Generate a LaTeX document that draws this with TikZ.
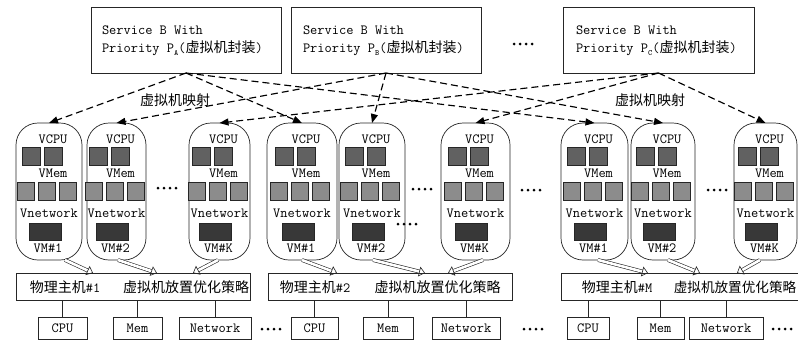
\documentclass[tikz,border=0pt]{standalone}
\usepackage{fontspec}
\newfontfamily\cjk{Noto Sans CJK SC}
\usetikzlibrary{arrows.meta,calc}
\newcommand{\psub}[1]{\raisebox{-3pt}{\fontsize{8}{8}\selectfont #1}}
\newcommand{\fourdots}[2]{\foreach \i in {0,1,2,3} {\fill (#1+\i*6,#2) circle (1.5pt);}}
\newcommand{\vmpod}[4]{%
  \node[pod, minimum width=#3pt] (#1) at (#2,191.5) {};
  \node[txt] (#1-t1) at (#2+4,139) {VCPU};
  \node[cpusq] (#1-c1) at (#2-18,156) {};
  \node[cpusq] (#1-c2) at (#2+4,156) {};
  \node[txt] (#1-t2) at (#2+4,173) {VMem};
  \node[memsq] (#1-m1) at (#2-23,191) {};
  \node[memsq] (#1-m2) at (#2-2,191) {};
  \node[memsq] (#1-m3) at (#2+19,191) {};
  \node[txt] (#1-t3) at (#2,213) {Vnetwork};
  \node[netsq] (#1-n) at (#2-4,231.5) {};
  \node[txt] (#1-t4) at (#2-1,248) {VM\##4};
}
\begin{document}
\begin{tikzpicture}[x=1pt,y=-1pt,
  every node/.style={inner sep=0pt, outer sep=0pt},
  txt/.style={font=\ttfamily\fontsize{14}{18}\selectfont},
  box/.style={draw=black!85, line width=0.7pt},
  pod/.style={box, rounded corners=22pt, minimum height=137pt},
  cpusq/.style={box, fill=black!62, minimum width=18pt, minimum height=18pt},
  memsq/.style={box, fill=black!45, minimum width=17pt, minimum height=18pt},
  netsq/.style={box, fill=black!78, minimum width=32pt, minimum height=17pt},
  dasharrow/.style={draw=black, line width=1.15pt, dash pattern=on 7pt off 4pt, -{Triangle[length=9pt,width=7pt]}},
  hollow/.style={draw=black!85, double=white, double distance=2.6pt, line width=0.6pt, -{Triangle[open,length=6pt,width=10pt]}},
  res/.style={box, txt, minimum height=22pt, anchor=north west},
  host/.style={box, minimum height=27pt, anchor=north west},
  svc/.style={box, minimum height=66pt, anchor=north west},
]
\useasboundingbox (0,0) rectangle (798,341);
\fill[white] (0,0) rectangle (798,341);

% service boxes
\node[svc, minimum width=190pt] (sa) at (91,7) {};
\node[svc, minimum width=190pt] (sb) at (291,7) {};
\node[svc, minimum width=191pt] (sc) at (563,7) {};
\node[txt, align=left, anchor=west] (sa-t) at (102,41) {Service B With\\Priority P\psub{A}({\cjk 虚拟机封装})};
\node[txt, align=left, anchor=west] (sb-t) at (303,41) {Service B With\\Priority P\psub{B}({\cjk 虚拟机封装})};
\node[txt, align=left, anchor=west] (sc-t) at (576,41) {Service B With\\Priority P\psub{C}({\cjk 虚拟机封装})};
\fourdots{514}{44}

% VM pods
\vmpod{g1a}{49}{66}{1}
\vmpod{g1b}{116.5}{59}{2}
\vmpod{g1k}{219.5}{61}{K}
\vmpod{g2a}{302}{70}{1}
\vmpod{g2b}{372}{66}{2}
\vmpod{g2k}{475.5}{69}{K}
\vmpod{g3a}{594.5}{67}{1}
\vmpod{g3b}{663}{64}{2}
\vmpod{g3k}{765.5}{63}{K}
\fourdots{158}{188}
\fourdots{413}{189}
\fourdots{398}{224}
\fourdots{522}{190}
\fourdots{708}{190}

% mapping labels
\node[txt] (lab1) at (175,100) {\cjk 虚拟机映射};
\node[txt] (lab2) at (650,100) {\cjk 虚拟机映射};

% dashed mapping arrows
\foreach \s/\t in {sa/g1a, sa/g2a, sa/g3a, sb/g1b, sb/g2b, sb/g3b, sc/g1k, sc/g2k, sc/g3k}
  {\draw[dasharrow] (\s.south) -- (\t.north);}

% hosts
\node[host, minimum width=234pt] (h1) at (16,273) {};
\node[host, minimum width=244pt] (h2) at (268,273) {};
\node[host, minimum width=244pt] (h3) at (561,273) {};
\node[txt] (h1-a) at (65,287) {{\cjk 物理主机}\#1};
\node[txt] (h1-b) at (186,287) {\cjk 虚拟机放置优化策略};
\node[txt] (h2-a) at (315,287) {{\cjk 物理主机}\#2};
\node[txt] (h2-b) at (437.5,287) {\cjk 虚拟机放置优化策略};
\node[txt] (h3-a) at (617,287) {{\cjk 物理主机}\#M};
\node[txt, font=\fontsize{13.6}{18}\selectfont] (h3-b) at (735,287) {\cjk 虚拟机放置优化策略};

% placement arrows
\draw[hollow] ([xshift=16pt]g1a.south) -- ([xshift=77pt]h1.north west);
\draw[hollow] ([xshift=1.5pt]g1b.south) -- ([xshift=141pt]h1.north west);
\draw[hollow] ([xshift=-1.5pt]g1k.south) -- ([xshift=177pt]h1.north west);
\draw[hollow] (g2a.south) -- ([xshift=69pt]h2.north west);
\draw[hollow] ([xshift=1pt]g2b.south) -- ([xshift=157pt]h2.north west);
\draw[hollow] ([xshift=7.5pt]g2k.south) -- ([xshift=180pt]h2.north west);
\draw[hollow] ([xshift=3.5pt]g3a.south) -- ([xshift=87pt]h3.north west);
\draw[hollow] ([xshift=5pt]g3b.south) -- ([xshift=139pt]h3.north west);
\draw[hollow] ([xshift=-5.5pt]g3k.south) -- ([xshift=176pt]h3.north west);

% resources
\node[res, minimum width=49pt] (r1c) at (38,317) {CPU};
\node[res, minimum width=49pt] (r1m) at (113,317) {Mem};
\node[res, minimum width=72pt] (r1n) at (179,317) {Network};
\node[res, minimum width=47pt] (r2c) at (291,317) {CPU};
\node[res, minimum width=50pt] (r2m) at (363,317) {Mem};
\node[res, minimum width=68pt] (r2n) at (432,317) {Network};
\node[res, minimum width=42pt] (r3c) at (567,317) {CPU};
\node[res, minimum width=47pt] (r3m) at (637,317) {Mem};
\node[res, minimum width=74pt] (r3n) at (689,317) {Network};
\foreach \r/\h in {r1c/h1, r1m/h1, r1n/h1, r2c/h2, r2m/h2, r2n/h2, r3c/h3, r3m/h3, r3n/h3}
  {\draw[box] (\r.north) -- (\r.north |- \h.south);}
\fourdots{262}{329}
\fourdots{524}{329}
\fourdots{773}{329}
\end{tikzpicture}
\end{document}
